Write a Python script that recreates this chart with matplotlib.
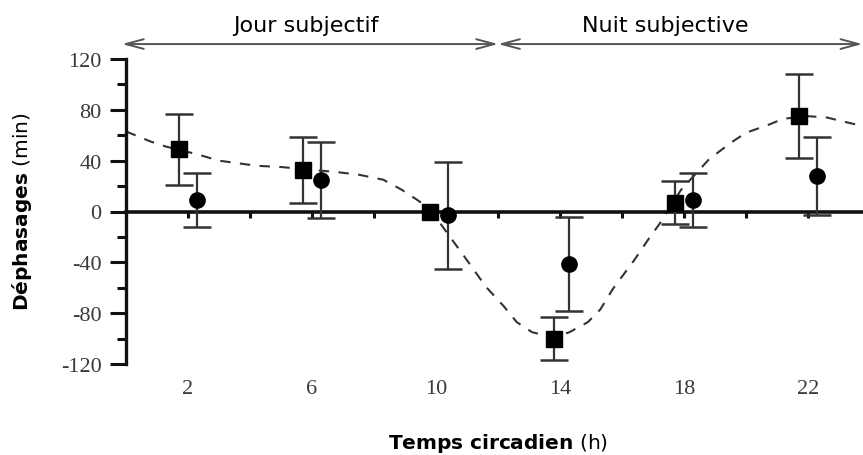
import numpy as np
import matplotlib
matplotlib.use("Agg")
import matplotlib.pyplot as plt

# phase shifts (min) vs circadian time (h)
sq_x = [1.7, 5.7, 9.8, 13.8, 17.7, 21.7]
sq_y = [49, 33, 0, -100, 7, 75]
sq_err = [28, 26, np.nan, 17, 17, 33]

circ_x = [2.3, 6.3, 10.4, 14.3, 18.3, 22.3]
circ_y = [9, 25, -3, -41, 9, 28]
circ_err = [21, 30, 42, 37, 21, 31]

# dashed fitted curve
fit_x = [0.0, 0.8, 1.3, 2.3, 3.0, 4.2, 5.0, 6.8, 7.5, 8.3, 8.9, 9.4, 9.8,
         10.45, 10.9, 11.6, 12.2, 12.6, 13.1, 13.8, 14.3, 14.9, 15.3, 15.7,
         16.4, 16.9, 17.2, 17.9, 18.8, 19.5, 20.0, 20.7, 21.2, 22.0, 22.6,
         23.1, 23.8]
fit_y = [63, 55, 51, 45, 40, 36, 35, 31, 29, 25, 17, 9, 2,
         -20, -35, -59, -75, -87, -95, -99, -95, -87, -77, -61,
         -38, -20, -10, 17, 41, 54, 62, 68, 73, 75, 74,
         71, 67]

xticks_major = [2, 6, 10, 14, 18, 22]
xticks_minor = [4, 8, 12, 16, 20]
yticks_major = [-120, -80, -40, 0, 40, 80, 120]
yticks_minor = [-100, -60, -20, 20, 60, 100]

fig = plt.figure(figsize=(8.63, 4.56), dpi=100)
ax = fig.add_axes([126 / 863, 91 / 456, 737 / 863, 305 / 456])

ink = "#111111"
ax.plot(fit_x, fit_y, ls=(0, (5, 4.5)), color="#333333", lw=1.5, zorder=2)

ax.errorbar(sq_x, sq_y, yerr=sq_err, fmt="s", ms=12, color="black",
            ecolor="#333333", elinewidth=1.6, capsize=10, capthick=1.8, zorder=3)
ax.errorbar(circ_x, circ_y, yerr=circ_err, fmt="o", ms=11, color="black",
            ecolor="#333333", elinewidth=1.6, capsize=10, capthick=1.8, zorder=3)

ax.set_xlim(0, 23.77)
ax.set_ylim(-120, 120)

for s in ["top", "right"]:
    ax.spines[s].set_visible(False)
ax.spines["left"].set_linewidth(2.4)
ax.spines["left"].set_color(ink)
ax.spines["bottom"].set_position(("data", 0))
ax.spines["bottom"].set_linewidth(2.6)
ax.spines["bottom"].set_color(ink)

ax.set_yticks(yticks_major)
ax.set_yticks(yticks_minor, minor=True)
ax.set_yticklabels([str(v) for v in yticks_major], family="Liberation Serif",
                   fontsize=16, color="#3a3a3a")
ax.tick_params(axis="y", which="major", length=11.5, width=2.2, color=ink, pad=6)
ax.tick_params(axis="y", which="minor", length=6.5, width=2.2, color=ink)

ax.set_xticks(xticks_major)
ax.set_xticks(xticks_minor, minor=True)
ax.set_xticklabels([str(v) for v in xticks_major], family="Liberation Serif",
                   fontsize=16, color="#3a3a3a")
ax.tick_params(axis="x", which="both", direction="out", length=4.5, width=2.2,
               color=ink)
ax.tick_params(axis="x", which="major", pad=116)

# subjective day / night arrows above the plot
tr = ax.get_xaxis_transform()
arrow = dict(arrowstyle="<->,head_length=1.3,head_width=0.35", color="#555555",
             lw=1.4, shrinkA=0, shrinkB=0)
ax.annotate("", xy=(-0.13, 1.049), xytext=(12.0, 1.049), xycoords=tr,
            textcoords=tr, arrowprops=arrow, annotation_clip=False)
ax.annotate("", xy=(12.0, 1.049), xytext=(23.75, 1.049), xycoords=tr,
            textcoords=tr, arrowprops=arrow, annotation_clip=False)
ax.text(5.8, 1.112, "Jour subjectif", transform=tr, ha="center", va="center",
        fontsize=16)
ax.text(17.4, 1.112, "Nuit subjective", transform=tr, ha="center", va="center",
        fontsize=16)

fig.text(498 / 863, 1 - 444 / 456, r"$\mathbf{Temps\ circadien}$ (h)",
         ha="center", va="center", fontsize=14.5)
fig.text(22 / 863, 1 - 212 / 456, r"$\mathbf{Déphasages}$ (min)",
         ha="center", va="center", rotation=90, fontsize=14.5)

fig.savefig("out.png", dpi=100)
